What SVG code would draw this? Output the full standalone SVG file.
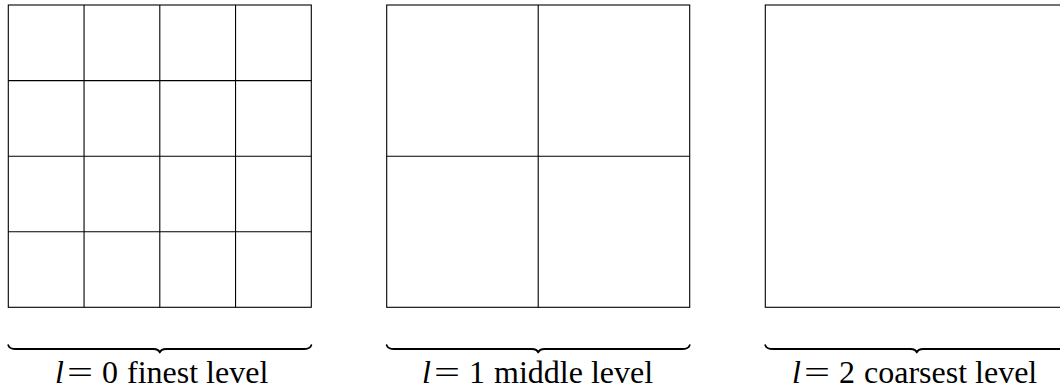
<svg xmlns="http://www.w3.org/2000/svg" width="1060" height="390" viewBox="0 0 1060 390">
  <style>
    .cell { fill: #ffffff; stroke: #000000; stroke-width: 1.1; }
    .grid { stroke: #000000; stroke-width: 1.1; fill: none; }
    .brace { fill: none; stroke: #000000; stroke-width: 1.8; stroke-linecap: round; stroke-linejoin: round; }
    .lbl { font-size: 32px; fill: #000000; }
    .it { font-style: italic; }
  </style>
  <rect width="1060" height="390" fill="#ffffff"/>

  <g id="level0">
    <rect class="cell" x="8.3" y="5" width="303" height="302.3"/>
    <path class="grid" d="M84.05 5V307.3M159.8 5V307.3M235.55 5V307.3M8.3 80.6H311.3M8.3 156.2H311.3M8.3 231.8H311.3"/>
  </g>

  <g id="level1">
    <rect class="cell" x="386.7" y="5" width="303" height="302.3"/>
    <path class="grid" d="M538.2 5V307.3M386.7 156.2H689.7"/>
  </g>

  <g id="level2">
    <rect class="cell" x="765.3" y="5" width="303" height="302.3"/>
  </g>

  <g id="braces">
    <path class="brace" d="M8.3 345.2Q9.5 349 16 349H153.5Q158.5 349 159.8 352.5Q161.1 349 166 349H303.5Q310 349 311.3 345.2"/>
    <path class="brace" d="M386.7 345.2Q387.9 349 394.4 349H531.9Q536.9 349 538.2 352.5Q539.5 349 544.5 349H681.9Q688.4 349 689.7 345.2"/>
    <path class="brace" d="M765.3 345.2Q766.5 349 773 349H910.5Q915.5 349 916.8 352.5Q918.1 349 923 349H1060.5Q1067 349 1068.3 345.2"/>
  </g>

  <g id="labels" font-family="'Liberation Serif', 'DejaVu Serif', serif">
    <text class="lbl" y="383"><tspan class="it" x="55">l</tspan><tspan x="67" textLength="26" lengthAdjust="spacingAndGlyphs">=</tspan><tspan x="102">0</tspan><tspan x="127">finest level</tspan></text>
    <text class="lbl" y="383"><tspan class="it" x="422">l</tspan><tspan x="434" textLength="26" lengthAdjust="spacingAndGlyphs">=</tspan><tspan x="469">1</tspan><tspan x="494">middle level</tspan></text>
    <text class="lbl" y="383"><tspan class="it" x="792">l</tspan><tspan x="804" textLength="26" lengthAdjust="spacingAndGlyphs">=</tspan><tspan x="839">2</tspan><tspan x="864">coarsest level</tspan></text>
  </g>
</svg>
